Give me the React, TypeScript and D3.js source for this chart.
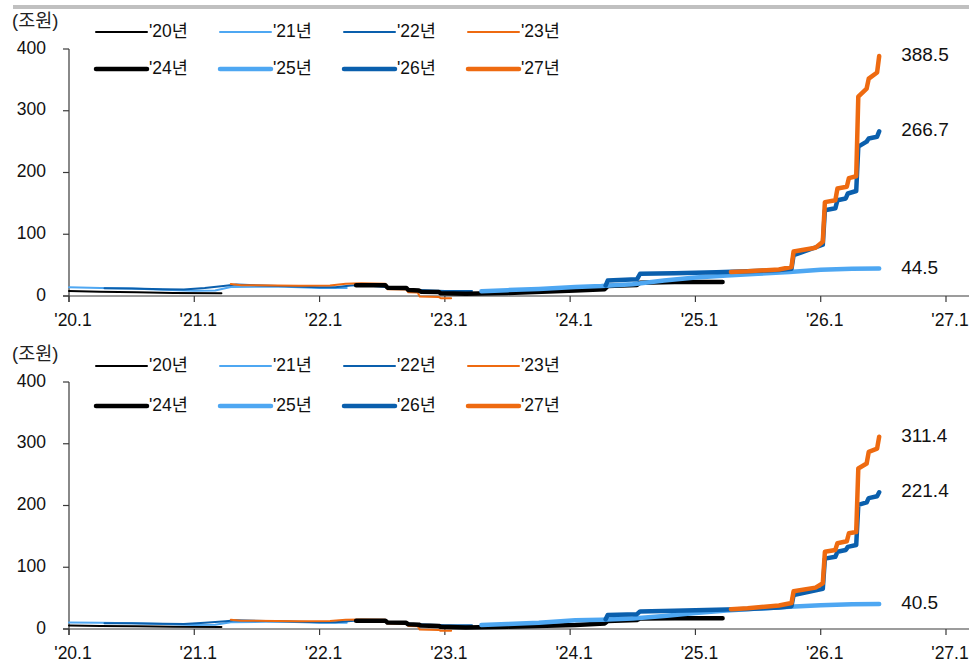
import React from "react";
import * as d3 from "d3";

// ---------- data ----------
const xTickMonths = [0, 12, 24, 36, 48, 60, 72, 84];
const xTickLabels = ["'20.1", "'21.1", "'22.1", "'23.1", "'24.1", "'25.1", "'26.1", "'27.1"];
const yTicks = [0, 100, 200, 300, 400];
const unitLabel = "(조원)";

const seriesNames = ["'20년", "'21년", "'22년", "'23년", "'24년", "'25년", "'26년", "'27년"];
const seriesColors = ["#000000", "#4ea7f2", "#0a5fad", "#ee6a10", "#000000", "#4ea7f2", "#0a5fad", "#ee6a10"];
const seriesWidths = [2, 2, 2, 2, 4.5, 4.5, 4.5, 4.5];

// month index since 2020-01, value (조원)
const top20 = [[0, 8], [3, 7], [6.5, 6], [10, 5], [14.6, 4.5]];
const top21 = [[0, 14], [3, 13], [6, 12], [9, 10], [12, 8.5], [14, 9], [15.5, 14.5], [20, 15.5], [24, 13], [26.6, 13]];
const top22 = [[3.4, 12.5], [6, 12], [9, 11], [11, 10.5], [13, 13], [15, 16.5], [16, 18.5], [20, 16], [24, 14], [25.5, 14], [27, 17], [28, 18], [30, 15], [33, 10], [36, 8], [38.6, 8]];
const top23 = [[15.5, 19.5], [16.5, 17.5], [22, 16.5], [25, 17], [26.5, 20], [28, 20.5], [30.3, 20], [30.5, 11], [32.3, 10.5], [32.5, 6], [33.4, 5.5], [33.6, -1], [35.4, -1.5], [35.6, -3.7], [36.6, -3.7]];
const top24 = [[27.5, 17.5], [30.3, 17.5], [30.5, 13.5], [32.3, 13], [32.5, 9.7], [33.5, 9], [33.7, 7], [35.4, 6.5], [35.6, 4.3], [38, 3.5], [42, 5], [48.5, 9], [51.3, 11], [51.6, 16], [54.4, 18], [54.7, 21.5], [58, 22.5], [62.6, 22.5]];
const top25 = [[39.5, 7.5], [42, 9.5], [45, 11.5], [48.5, 14.5], [51, 16], [54, 19], [57, 25], [60, 30], [63, 33], [66, 36], [69, 39], [72, 42.5], [75, 44.2], [77.6, 44.5]];
const top26 = [[51.4, 17], [51.6, 25], [54.4, 27], [54.7, 36], [58, 37], [62, 38.5], [65, 40], [68, 42], [69.2, 44], [69.4, 66], [72.2, 83], [72.4, 139], [73.4, 142], [73.6, 155], [74.4, 158], [74.6, 166], [75.4, 170], [75.6, 242], [76.4, 250], [76.6, 255], [77.4, 258], [77.6, 266.7]];
const top27 = [[63.4, 39], [65, 40], [68, 43], [69.2, 47], [69.4, 72], [71.5, 78], [72.2, 88], [72.4, 152], [73.4, 155], [73.6, 174], [74.5, 177], [74.7, 191], [75.4, 194], [75.6, 323], [76.4, 336], [76.6, 352], [77.4, 362], [77.6, 388.5]];

const bot20 = [[0, 5.5], [3, 5], [6.5, 4.5], [10, 3.8], [14.6, 3.2]];
const bot21 = [[0, 10.5], [3, 10], [6, 9.5], [9, 8], [12, 6.5], [14, 7], [15.5, 11], [20, 12], [24, 10], [26.6, 10]];
const bot22 = [[3.4, 9.5], [6, 9.5], [9, 8.5], [11, 8], [13, 10], [15, 12.5], [16, 14], [20, 12.5], [24, 11], [25.5, 11], [27, 13], [28, 14], [30, 12], [33, 8], [36, 6], [38.6, 6]];
const bot23 = [[15.5, 15], [16.5, 13.5], [22, 12.5], [25, 13], [26.5, 15], [28, 15.5], [30.3, 15], [30.5, 9], [32.3, 8.5], [32.5, 5], [33.4, 4.5], [33.6, -1], [35.4, -1.5], [35.6, -3], [36.6, -3]];
const bot24 = [[27.5, 13.5], [30.3, 13.5], [30.5, 10.5], [32.3, 10], [32.5, 7.5], [33.5, 7], [33.7, 5.5], [35.4, 5], [35.6, 3.5], [38, 2.5], [42, 3.8], [48.5, 6.5], [51.3, 9], [51.6, 13], [54.4, 14.5], [54.7, 17], [58, 17.3], [62.6, 17.3]];
const bot25 = [[39.5, 6.5], [42, 8], [45, 10], [48.5, 14], [51, 15], [54, 17], [57, 21], [60, 26], [63, 30], [66, 33], [69, 36], [72, 38.5], [75, 40], [77.6, 40.5]];
const bot26 = [[51.4, 15.7], [51.6, 22.7], [54.4, 24], [54.7, 28.5], [58, 29.5], [62, 31], [65, 32.5], [68, 35], [69.2, 37], [69.4, 55], [72.2, 65], [72.4, 114], [73.4, 117], [73.6, 125], [74.4, 128], [74.6, 133], [75.4, 136], [75.6, 201], [76.4, 205], [76.6, 212], [77.4, 215], [77.6, 221.4]];
const bot27 = [[63.4, 32], [65, 33.5], [68, 38], [69.2, 42], [69.4, 61], [71.5, 67], [72.2, 74], [72.4, 125], [73.4, 128], [73.6, 139], [74.5, 142], [74.7, 155], [75.4, 157], [75.6, 260], [76.4, 268], [76.6, 287], [77.4, 292], [77.6, 311.4]];

const topSeries = [top20, top21, top22, top23, top24, top25, top26, top27];
const botSeries = [bot20, bot21, bot22, bot23, bot24, bot25, bot26, bot27];
const topEndValues = [388.5, 266.7, 44.5];
const botEndValues = [311.4, 221.4, 40.5];

// ---------- layout ----------
const W = 969;
const H = 664;
const FONT = "'Liberation Sans', Arial, 'Noto Sans CJK KR', sans-serif";
const xScale = d3.scaleLinear().domain([0, 84]).range([69, 946]);

type PanelProps = {
  series: number[][][];
  endValues: number[];
  y0: number;
  y400: number;
  legendRows: number[];
  unitY: number;
  tickLabelY: number;
};

function Panel({ series, endValues, y0, y400, legendRows, unitY, tickLabelY }: PanelProps) {
  const y = d3.scaleLinear().domain([0, 400]).range([y0, y400]);
  const line = d3
    .line<number[]>()
    .x((d) => xScale(d[0]))
    .y((d) => y(d[1]));
  const endX = xScale(77.6);
  const axisColor = "#3a3a3a";
  return (
    <g>
      <text x={12} y={unitY} fontSize={18.5} fontFamily={FONT} dominantBaseline="middle" fill="#222">
        {unitLabel}
      </text>
      {/* y axis */}
      <line x1={69} x2={69} y1={y400} y2={y0 + 6} stroke={axisColor} strokeWidth={1.2} />
      {yTicks.map((t) => (
        <g key={t}>
          <line x1={63} x2={69} y1={y(t)} y2={y(t)} stroke={axisColor} strokeWidth={1.2} />
          <text
            x={46}
            y={y(t)}
            textAnchor="end"
            dominantBaseline="middle"
            fontSize={17.5}
            fontFamily={FONT}
            fill="#111"
          >
            {t}
          </text>
        </g>
      ))}
      {/* x axis */}
      <line x1={63} x2={W} y1={y0} y2={y0} stroke={axisColor} strokeWidth={1.2} />
      {xTickMonths.map((m, i) => (
        <g key={m}>
          <line x1={xScale(m)} x2={xScale(m)} y1={y0} y2={y0 + 6} stroke={axisColor} strokeWidth={1.2} />
          <text
            x={xScale(m) + 4}
            y={tickLabelY}
            textAnchor="middle"
            dominantBaseline="middle"
            fontSize={17.5}
            fontFamily={FONT}
            fill="#111"
          >
            {xTickLabels[i]}
          </text>
        </g>
      ))}
      {/* series */}
      {series.map((s, i) => (
        <path
          key={i}
          d={line(s) || ""}
          fill="none"
          stroke={seriesColors[i]}
          strokeWidth={seriesWidths[i]}
          strokeLinejoin="round"
          strokeLinecap="round"
        />
      ))}
      {/* end labels */}
      {endValues.map((v, i) => (
        <text
          key={i}
          x={endX + 22}
          y={y(v)}
          dominantBaseline="middle"
          fontSize={19}
          fontFamily={FONT}
          fill="#111"
        >
          {v.toFixed(1)}
        </text>
      ))}
      {/* legend */}
      {seriesNames.map((name, i) => {
        const col = i % 4;
        const row = Math.floor(i / 4);
        const x1 = 96 + col * 124;
        const ly = legendRows[row];
        return (
          <g key={name}>
            <line
              x1={x1}
              x2={x1 + 51}
              y1={ly}
              y2={ly}
              stroke={seriesColors[i]}
              strokeWidth={seriesWidths[i]}
              strokeLinecap="round"
            />
            <text x={x1 + 53} y={ly} dominantBaseline="middle" fontSize={17.5} fontFamily={FONT} fill="#111">
              {name}
            </text>
          </g>
        );
      })}
    </g>
  );
}

export default function App() {
  return (
    <svg
      width={W}
      height={H}
      viewBox={`0 0 ${W} ${H}`}
      style={{ position: "absolute", left: 0, top: 0, display: "block", background: "#fff" }}
    >
      <rect x={0} y={0} width={W} height={H} fill="#fff" />
      <rect x={13} y={5} width={W - 13} height={4} fill="#c0c0c0" />
      <Panel
        series={topSeries}
        endValues={topEndValues}
        y0={296}
        y400={49}
        legendRows={[32, 69]}
        unitY={22}
        tickLabelY={321}
      />
      <Panel
        series={botSeries}
        endValues={botEndValues}
        y0={629}
        y400={382}
        legendRows={[366, 406]}
        unitY={355}
        tickLabelY={654}
      />
    </svg>
  );
}
